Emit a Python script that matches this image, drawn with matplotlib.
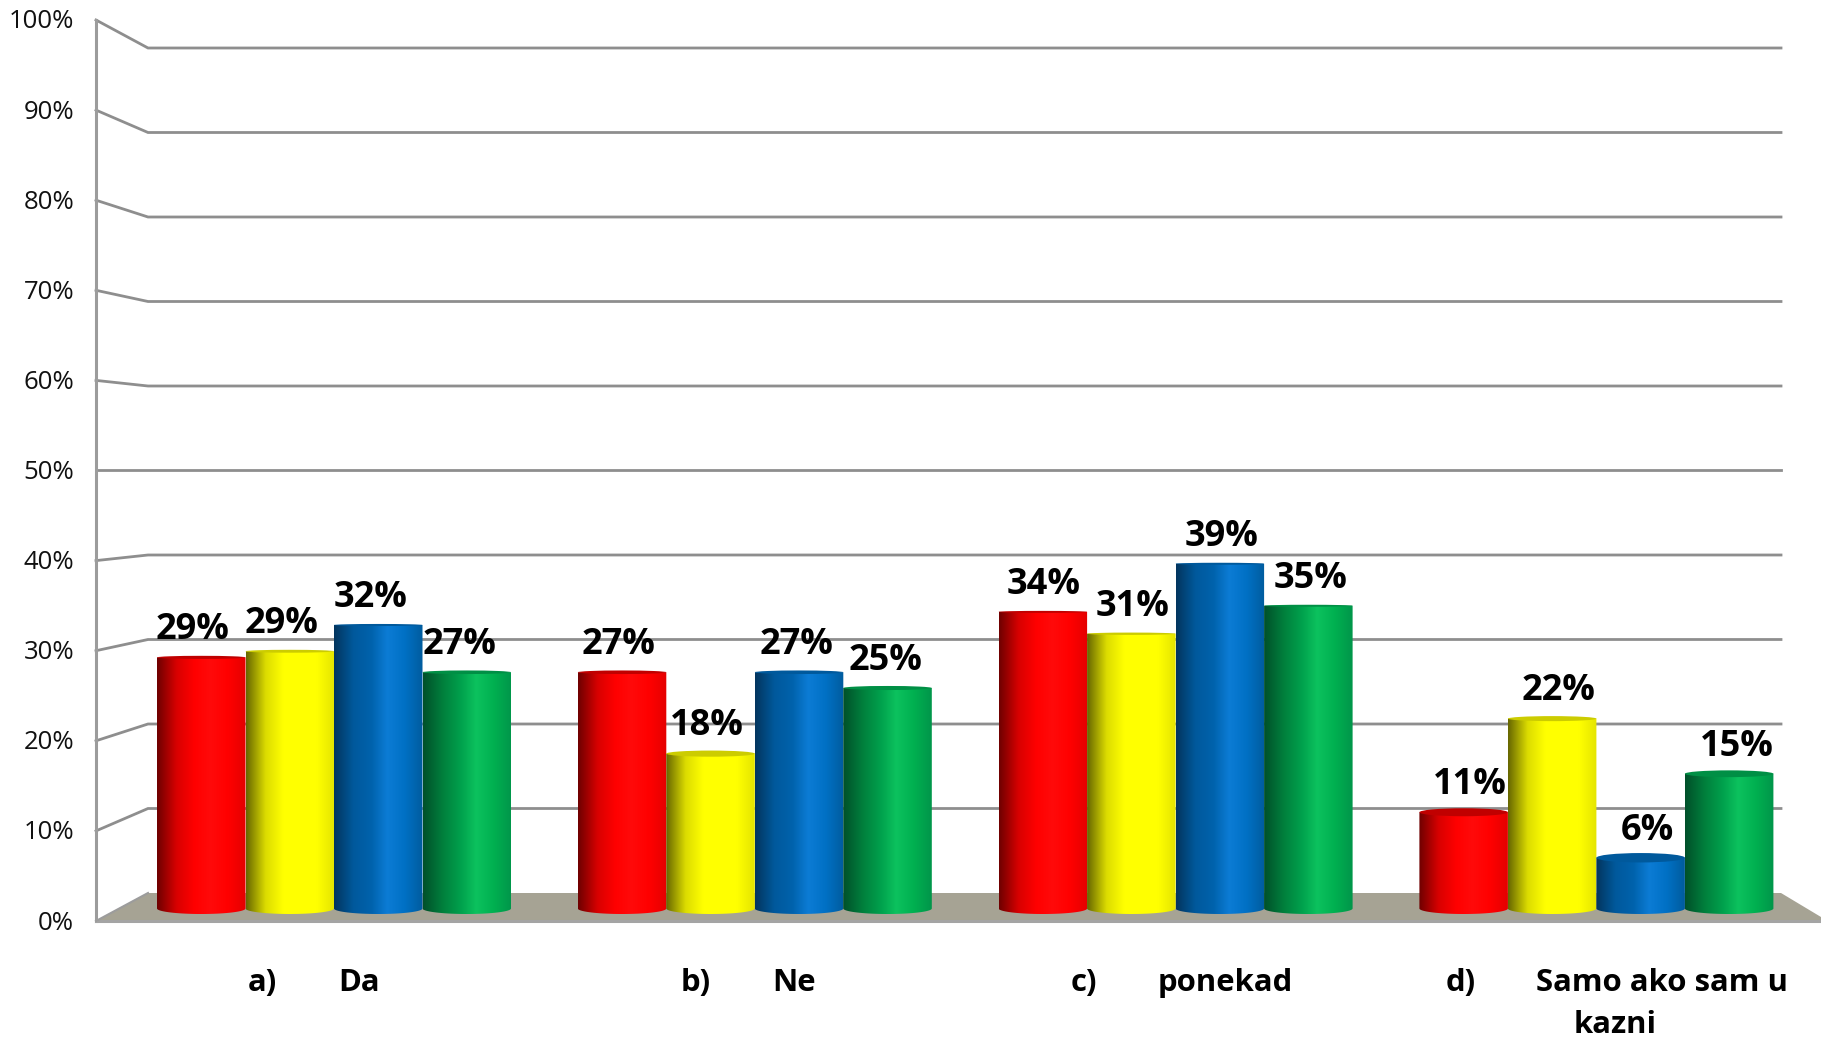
import numpy as np
import matplotlib
matplotlib.use("Agg")
import matplotlib.pyplot as plt
from matplotlib.colors import LinearSegmentedColormap
from matplotlib.patches import Ellipse, Polygon

plt.rcParams["font.family"] = ["Open Sans", "DejaVu Sans"]

# values
red = [28.7, 27.0, 33.9, 11.0]
yellow = [29.4, 17.7, 31.4, 21.7]
blue = [32.4, 27.0, 39.4, 5.8]
green = [27.0, 25.2, 34.6, 15.4]
series = [red, yellow, blue, green]

tick_labels = ["0%", "10%", "20%", "30%", "40%", "50%", "60%", "70%", "80%", "90%", "100%"]
letters = ["a)", "b)", "c)", "d)"]
answers = ["Da", "Ne", "ponekad", "Samo ako sam u\nkazni"]

# dark edge -> shaded -> highlight -> body -> right edge
gradients = [
    ["#6e0000", "#d80000", "#ff0000", "#ff0a0a", "#ff0000", "#e40000"],
    ["#666600", "#dcdc00", "#ffff00", "#ffff00", "#ffff00", "#e4e400"],
    ["#03355e", "#00599c", "#0062ac", "#0c7cd5", "#0070c4", "#005c9e"],
    ["#00502a", "#007f3c", "#00a04c", "#0cc25e", "#00b050", "#00954a"],
]
top_colors = ["#c00000", "#cccc00", "#00599c", "#008f45"]

W, H = 1821, 1040
BAR_W = 88.5 / 420.8
BASE_PX = 908.5
PX_PER_PCT = 8.75
CENTER_PX = 334
STEP_PX = 420.8


def px_x(p):
    return (p - CENTER_PX) / STEP_PX


def px_y(p):
    return (BASE_PX - p) / PX_PER_PCT


fig = plt.figure(figsize=(W / 100, H / 100), dpi=100)
ax = fig.add_axes([0, 0, 1, 1])
ax.set_xlim(px_x(0), px_x(W))
ax.set_ylim(px_y(H), px_y(0))
ax.axis("off")

# floor
LEFT, BACK, RIGHT = 96, 148, 1781
FRONT_0, FRONT_STEP = 921, 90.1
BACK_0, BACK_STEP = 893, 84.5
floor = Polygon([(px_x(LEFT), px_y(FRONT_0)), (px_x(BACK), px_y(BACK_0)), (px_x(RIGHT), px_y(BACK_0)),
                 (px_x(W + 5), px_y(FRONT_0 - 1)), (px_x(W + 5), px_y(FRONT_0))],
                facecolor="#a6a394", edgecolor="none", zorder=1)
ax.add_patch(floor)

# walls and grid
grid_color = "#8e8e8e"
for i in range(1, 11):
    yf = px_y(FRONT_0 - FRONT_STEP * i)
    yb = px_y(BACK_0 - BACK_STEP * i)
    ax.plot([px_x(LEFT), px_x(BACK), px_x(RIGHT)], [yf, yb, yb], color=grid_color, lw=2, zorder=2,
            solid_joinstyle="miter")
ax.plot([px_x(LEFT), px_x(LEFT)], [px_y(FRONT_0), px_y(FRONT_0 - FRONT_STEP * 10)], color="#9c9c9c", lw=2.2, zorder=2)
ax.plot([px_x(LEFT), px_x(W)], [px_y(FRONT_0), px_y(FRONT_0)], color="#a4a4a4", lw=2.2, zorder=3)
ax.plot([px_x(LEFT), px_x(BACK)], [px_y(FRONT_0), px_y(BACK_0)], color="#9c9c9c", lw=1.5, zorder=3)

for i, lab in enumerate(tick_labels):
    ax.text(px_x(74), px_y(FRONT_0 - FRONT_STEP * i + 2), lab, ha="right", va="center", fontsize=18.5, color="#111111")


def semi_height(v):
    # cylinder tops flatten out the higher they sit
    return max(1.0, 5.5 * (1 - v / 40)) / PX_PER_PCT


z = 4
for s, vals in enumerate(series):
    cmap = LinearSegmentedColormap.from_list("bar", list(zip([0, 0.22, 0.42, 0.6, 0.8, 1], gradients[s])))
    for g, v in enumerate(vals):
        x = g + (s - 1.5) * BAR_W
        x0, x1 = x - BAR_W / 2, x + BAR_W / 2
        foot = 5.5 / PX_PER_PCT
        t = np.linspace(0, np.pi, 40)
        arc = np.column_stack([x + BAR_W / 2 * np.cos(t), -foot * np.sin(t)])
        outline = np.vstack([[[x0, v], [x1, v]], arc])
        shape = Polygon(outline, closed=True, transform=ax.transData, facecolor="none", edgecolor="none")
        ax.add_patch(shape)
        im = ax.imshow(np.linspace(0, 1, 256).reshape(1, -1), cmap=cmap, extent=[x0, x1, -foot, v],
                       aspect="auto", zorder=z, interpolation="bilinear")
        im.set_clip_path(shape)
        ax.add_patch(Ellipse((x, v), BAR_W, 2 * semi_height(v), facecolor=top_colors[s], edgecolor="none", zorder=z + 0.5))
        z += 1

ax.set_xlim(px_x(0), px_x(W))
ax.set_ylim(px_y(H), px_y(0))

# value labels drift right from group to group
for s, vals in enumerate(series):
    for g, v in enumerate(vals):
        x = g + (s - 1.5) * BAR_W + px_x(CENTER_PX - 9 + 5 * g + s * 0.5)
        ax.text(x, v + 3.1, f"{v:.0f}%", ha="center", va="center", fontsize=26, fontweight="bold",
                color="black", zorder=50)

letter_px = [248, 681, 1071, 1446]
answer_px = [338, 772, 1158, 1536]
for lab, lx, ans, ax_px in zip(letters, letter_px, answers, answer_px):
    ax.text(px_x(lx), px_y(983), lab, ha="left", va="center", fontsize=22.4, fontweight="bold", color="black")
    lines = ans.split("\n")
    ax.text(px_x(ax_px), px_y(983), lines[0], ha="left", va="center", fontsize=22.4, fontweight="bold", color="black")
    if len(lines) > 1:
        ax.text(px_x(1615), px_y(1025), lines[1], ha="center", va="center", fontsize=22.4, fontweight="bold",
                color="black", clip_on=False)

fig.savefig("out.png", dpi=100, facecolor="white")
